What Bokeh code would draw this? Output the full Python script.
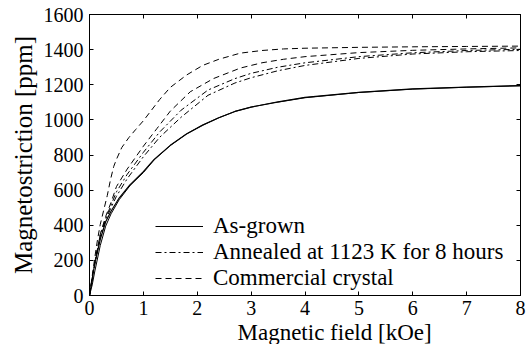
from bokeh.plotting import figure
from bokeh.models import (LinearAxis, Range1d, Legend, LegendItem,
                          FixedTicker, Title)
from bokeh.embed import file_html
from bokeh.resources import INLINE

# ---------------- data ----------------
x_ticks = [0, 1, 2, 3, 4, 5, 6, 7, 8]
y_ticks = [0, 200, 400, 600, 800, 1000, 1200, 1400, 1600]

grown_field = [0, 0.05, 0.1, 0.2, 0.3, 0.4, 0.55, 0.75, 1.0, 1.2, 1.5, 1.8,
               2.1, 2.4, 2.7, 3.0, 3.5, 4.0, 5.0, 6.0, 7.0, 8.0]
grown_a = [0, 95, 185, 320, 420, 480, 555, 630, 705, 775, 855, 920,
           970, 1012, 1048, 1073, 1103, 1128, 1157, 1176, 1187, 1195]
grown_b = [0, 60, 140, 285, 395, 465, 545, 625, 700, 772, 854, 920,
           970, 1012, 1048, 1073, 1101, 1126, 1156, 1175, 1186, 1194]

annealed_field = [0, 0.05, 0.1, 0.2, 0.3, 0.4, 0.5, 0.7, 1.0, 1.3, 1.7, 2.2,
                  2.7, 3.0, 3.5, 4.0, 5.0, 6.0, 7.0, 8.0]
annealed_a = [0, 95, 190, 345, 440, 515, 590, 690, 815, 930, 1055, 1170,
              1235, 1265, 1300, 1325, 1360, 1382, 1395, 1402]
annealed_b = [0, 90, 180, 335, 430, 500, 565, 665, 790, 900, 1015, 1140,
              1210, 1240, 1280, 1310, 1350, 1375, 1388, 1395]

commercial_a_field = [0, 0.05, 0.1, 0.15, 0.2, 0.27, 0.33, 0.39, 0.45, 0.5,
                      0.6, 0.73, 0.86, 1.0, 1.15, 1.3, 1.5, 1.8, 2.1, 2.4,
                      2.8, 3.2, 3.6, 4.0, 5.0, 6.0, 7.0, 8.0]
commercial_a = [0, 110, 220, 320, 405, 494, 569, 660, 735, 775,
                843, 899, 946, 995, 1055, 1115, 1185, 1255, 1310, 1345,
                1380, 1395, 1404, 1408, 1413, 1416, 1418, 1420]

commercial_b_field = [0, 0.05, 0.1, 0.2, 0.3, 0.4, 0.5, 0.7, 1.0, 1.25, 1.5,
                      1.87, 2.3, 2.8, 3.2, 3.6, 4.0, 5.0, 6.0, 7.0, 8.0]
commercial_b = [0, 100, 195, 350, 450, 530, 620, 720, 850, 950, 1050,
                1160, 1235, 1295, 1325, 1345, 1360, 1383, 1396, 1404, 1410]

legend_labels = ["As-grown", "Annealed at 1123 K for 8 hours", "Commercial crystal"]
x_label = "Magnetic field [kOe]"
y_label = "Magnetostriction [ppm]"

FONT = "Liberation Serif"

# ---------------- figure ----------------
p = figure(width=526, height=344, output_backend="svg", toolbar_location=None,
           x_range=Range1d(0, 8), y_range=Range1d(0, 1600),
           min_border_left=89, min_border_right=6, min_border_top=14,
           min_border_bottom=40)
p.background_fill_color = "white"
p.border_fill_color = "white"
p.outline_line_color = "black"
p.outline_line_width = 1
p.grid.visible = False

for ax in (p.xaxis[0], p.yaxis[0]):
    ax.major_tick_in = 4
    ax.major_tick_out = 0
    ax.minor_tick_line_color = None
    ax.axis_line_color = "black"
    ax.major_tick_line_color = "black"
    ax.major_label_text_font = FONT
    ax.major_label_text_font_size = "20px"
    ax.major_label_text_color = "black"
p.xaxis[0].ticker = FixedTicker(ticks=x_ticks)
p.yaxis[0].ticker = FixedTicker(ticks=y_ticks)
p.xaxis[0].major_label_standoff = 5
p.yaxis[0].major_label_standoff = 6

# y-axis title
p.yaxis[0].axis_label = y_label
p.yaxis[0].axis_label_text_font = FONT
p.yaxis[0].axis_label_text_font_size = "25px"
p.yaxis[0].axis_label_text_font_style = "normal"
p.yaxis[0].axis_label_text_color = "black"
p.yaxis[0].axis_label_standoff = 4

# mirrored (unlabelled) ticks on top and right
top_ax = LinearAxis(ticker=FixedTicker(ticks=[], minor_ticks=x_ticks),
                    minor_tick_in=4, minor_tick_out=0, minor_tick_line_color="black",
                    major_tick_in=0, major_tick_out=0, major_label_standoff=0,
                    axis_line_color="black")
right_ax = LinearAxis(ticker=FixedTicker(ticks=[], minor_ticks=y_ticks),
                      minor_tick_in=4, minor_tick_out=0, minor_tick_line_color="black",
                      major_tick_in=0, major_tick_out=0, major_label_standoff=0,
                      axis_line_color="black")
p.add_layout(top_ax, "above")
p.add_layout(right_ax, "right")

# x-axis title (offset to the right, as in the reference)
p.add_layout(Title(text=x_label, align="left", offset=148, standoff=0,
                   text_font=FONT, text_font_size="23px",
                   text_font_style="normal", text_color="black"), "below")

# ---------------- curves ----------------
r_g1 = p.line(grown_field, grown_a, line_color="black", line_width=1.2)
r_g2 = p.line(grown_field, grown_b, line_color="black", line_width=1.0)
r_a1 = p.line(annealed_field, annealed_a, line_color="black", line_width=1.0,
              line_dash="6 3 2 3")
r_a2 = p.line(annealed_field, annealed_b, line_color="black", line_width=1.0,
              line_dash="6 3 2 3")
r_c1 = p.line(commercial_a_field, commercial_a, line_color="black", line_width=1.0,
              line_dash="6 4")
r_c2 = p.line(commercial_b_field, commercial_b, line_color="black", line_width=1.0,
              line_dash="6 4")

legend = Legend(items=[LegendItem(label=legend_labels[0], renderers=[r_g1]),
                       LegendItem(label=legend_labels[1], renderers=[r_a1]),
                       LegendItem(label=legend_labels[2], renderers=[r_c1])],
                location=(66, 4))
legend.border_line_color = None
legend.background_fill_alpha = 0
legend.label_text_font = FONT
legend.label_text_font_size = "23px"
legend.label_text_color = "black"
legend.glyph_width = 48
legend.glyph_height = 26
legend.label_height = 26
legend.spacing = 0
legend.padding = 0
legend.margin = 0
legend.label_standoff = 10
p.add_layout(legend)

open("out.html", "w").write(file_html(p, INLINE))
